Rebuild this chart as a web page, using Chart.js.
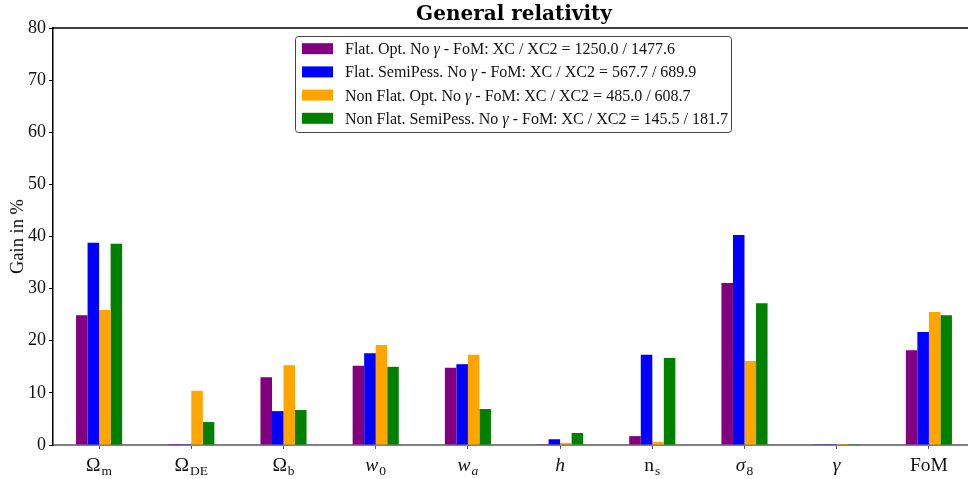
<!DOCTYPE html>
<html>
<head>
<meta charset="utf-8">
<script src="https://cdn.jsdelivr.net/npm/chart.js@4/dist/chart.umd.min.js"></script>
<style>
  html, body { margin: 0; padding: 0; background: #fff; overflow: hidden; width: 968px; height: 479px; }
  #wrap { position: relative; width: 976px; height: 479px; }
</style>
</head>
<body>
<div id="wrap">
  <canvas id="c" width="976" height="479"></canvas>
</div>
<script>
const categories = ['Ω_m', 'Ω_DE', 'Ω_b', 'w_0', 'w_a', 'h', 'n_s', 'σ_8', 'γ', 'FoM'];
const seriesLabels = [
  'Flat. Opt. No γ - FoM: XC / XC2 = 1250.0 / 1477.6',
  'Flat. SemiPess. No γ - FoM: XC / XC2 = 567.7 / 689.9',
  'Non Flat. Opt. No γ - FoM: XC / XC2 = 485.0 / 608.7',
  'Non Flat. SemiPess. No γ - FoM: XC / XC2 = 145.5 / 181.7'
];
const flatOpt         = [24.9, 0.2, 13.0, 15.2, 14.8, 0.15, 1.7, 31.1, 0.15, 18.2];
const flatSemiPess    = [38.8, 0.15, 6.5, 17.6, 15.5, 1.1, 17.3, 40.3, 0.15, 21.7];
const nonFlatOpt      = [25.9, 10.4, 15.3, 19.2, 17.3, 0.4, 0.6, 16.1, 0.2, 25.5];
const nonFlatSemiPess = [38.6, 4.4, 6.7, 15.0, 6.9, 2.3, 16.7, 27.2, 0.15, 24.9];
const yTicks = [0, 10, 20, 30, 40, 50, 60, 70, 80];

const colors = ['#800080', '#0000ff', '#ffa500', '#008000'];
const seriesValues = [flatOpt, flatSemiPess, nonFlatOpt, nonFlatSemiPess];
const FONT = "'Liberation Serif', serif";

const italicChars = new Set(['w', 'a', 'h', 'σ', 'γ']);

function roundRect(ctx, x, y, w, h, r) {
  ctx.beginPath();
  ctx.moveTo(x + r, y);
  ctx.lineTo(x + w - r, y); ctx.arcTo(x + w, y, x + w, y + r, r);
  ctx.lineTo(x + w, y + h - r); ctx.arcTo(x + w, y + h, x + w - r, y + h, r);
  ctx.lineTo(x + r, y + h); ctx.arcTo(x, y + h, x, y + h - r, r);
  ctx.lineTo(x, y + r); ctx.arcTo(x, y, x + r, y, r);
  ctx.closePath();
}

const extras = {
  id: 'extras',
  afterDraw(chart) {
    const ctx = chart.ctx;
    const a = chart.chartArea;
    ctx.save();
    ctx.strokeStyle = '#000';
    ctx.lineWidth = 1.5;
    ctx.beginPath();
    ctx.moveTo(a.left, a.top);
    ctx.lineTo(a.right, a.top);
    ctx.lineTo(a.right, a.bottom);
    ctx.stroke();

    const xs = chart.scales.x;
    ctx.fillStyle = '#111';
    ctx.textBaseline = 'alphabetic';
    ctx.textAlign = 'left';
    const baseSize = 19.5, subSize = 13.5, baseY = 471, subShift = 4;
    categories.forEach((lab, i) => {
      const parts = lab.split('_');
      const base = parts[0], sub = parts[1] || '';
      const bf = (italicChars.has(base) ? 'italic ' : '') + baseSize + 'px ' + FONT;
      const sf = (italicChars.has(sub) ? 'italic ' : '') + subSize + 'px ' + FONT;
      ctx.font = bf; const bw = ctx.measureText(base).width;
      ctx.font = sf; const sw = sub ? ctx.measureText(sub).width + 1 : 0;
      const x0 = xs.getPixelForTick(i) - (bw + sw) / 2;
      ctx.font = bf; ctx.fillText(base, x0, baseY);
      if (sub) { ctx.font = sf; ctx.fillText(sub, x0 + bw + 1, baseY + subShift); }
    });

    const lx = 295.5, ly = 36.5, lw = 436, lh = 96;
    roundRect(ctx, lx, ly, lw, lh, 3);
    ctx.fillStyle = 'rgba(255,255,255,0.85)';
    ctx.fill();
    ctx.strokeStyle = '#444';
    ctx.lineWidth = 1;
    ctx.stroke();
    const normalF = '16px ' + FONT, italF = 'italic 16px ' + FONT;
    chart.data.datasets.forEach((ds, k) => {
      const cy = 48.7 + k * 23.2;
      ctx.fillStyle = ds.backgroundColor;
      ctx.fillRect(302, cy - 5.5, 31, 11);
      ctx.fillStyle = '#111';
      let x = 345;
      const segs = ds.label.split('γ');
      segs.forEach((s, j) => {
        ctx.font = normalF;
        ctx.fillText(s, x, cy + 5.5);
        x += ctx.measureText(s).width;
        if (j < segs.length - 1) {
          ctx.font = italF;
          ctx.fillText('γ', x, cy + 5.5);
          x += ctx.measureText('γ').width;
        }
      });
    });
    ctx.restore();
  }
};

const chart = new Chart(document.getElementById('c'), {
  type: 'bar',
  data: {
    labels: categories,
    datasets: seriesValues.map((v, k) => ({
      label: seriesLabels[k],
      data: v,
      backgroundColor: colors[k],
      borderWidth: 0,
      categoryPercentage: 0.5,
      barPercentage: 1.0
    }))
  },
  options: {
    responsive: false,
    animation: false,
    devicePixelRatio: 1,
    layout: { padding: { left: 0, right: 1, top: 0, bottom: 0 } },
    plugins: {
      legend: { display: false },
      tooltip: { enabled: false },
      title: {
        display: true,
        text: 'General relativity',
        fullSize: false,
        color: '#000',
        font: { family: "'DejaVu Serif', serif", size: 20, weight: 'bold', lineHeight: 1.0 },
        padding: { top: 5, bottom: 3 }
      }
    },
    scales: {
      x: {
        type: 'category',
        grid: { display: true, drawOnChartArea: false, offset: false, drawTicks: true, tickLength: 4, color: '#555', lineWidth: 1 },
        border: { display: true, color: '#808080', width: 2 },
        ticks: { display: false },
        afterFit(s) { s.height = 34; }
      },
      y: {
        min: 0, max: 80,
        afterBuildTicks(s) { s.ticks = yTicks.map(v => ({ value: v })); },
        grid: { display: true, drawOnChartArea: false, drawTicks: true, tickLength: 4, color: '#000', lineWidth: 1 },
        border: { display: true, color: '#000', width: 1.5 },
        ticks: { color: '#111', font: { family: FONT, size: 18 }, padding: 3 },
        title: { display: true, text: 'Gain in %', color: '#111', font: { family: FONT, size: 18.5 }, padding: { top: 7, bottom: 0 } },
        afterFit(s) { s.width = 53; }
      }
    }
  },
  plugins: [extras]
});
</script>
</body>
</html>
